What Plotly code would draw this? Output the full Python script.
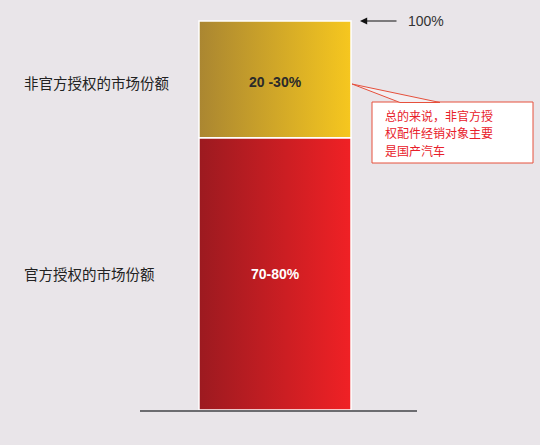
import plotly.graph_objects as go

# data
segments = ["官方授权的市场份额", "非官方授权的市场份额"]
shares = [70, 30]
share_labels = ["70-80%", "20 -30%"]
total_label = "100%"
note_lines = ["总的来说，非官方授", "权配件经销对象主要", "是国产汽车"]

# styles
left_colors = ["#9C1A20", "#AA8631"]
right_colors = ["#F02125", "#F6C71F"]
label_colors = ["white", "#2A2A2A"]
label_shift = [0, -3]
bg = "#E9E5E9"
font_family = "Liberation Sans, Arial, Noto Sans CJK SC"
cjk_family = "Noto Sans CJK SC, Liberation Sans"

W, H = 540, 445
L, R, T, B = 140, 123, 0, 35
plot_w, plot_h = W - L - R, H - T - B


def px(x):
    # pixel x -> paper x
    return (x - L) / plot_w


def py(y):
    # pixel y (from top) -> paper y
    return (H - B - y) / plot_h


fig = go.Figure()

base = 0
for name, v, lab, c0, c1, tc, sh in zip(segments, shares, share_labels,
                                       left_colors, right_colors,
                                       label_colors, label_shift):
    fig.add_trace(go.Scatter(
        x=[-0.5, 0.5, 0.5, -0.5, -0.5],
        y=[base, base, base + v, base + v, base],
        mode='lines', fill='toself',
        fillgradient=dict(type='horizontal',
                          colorscale=[[0, c0], [1, c1]]),
        line=dict(color='white', width=1.5),
        hoverinfo='skip', name=name
    ))
    fig.add_annotation(
        x=0, y=base + v / 2, text=lab, showarrow=False, yshift=sh,
        font=dict(family=font_family, size=14, color=tc, weight='bold')
    )
    # category label on the left
    fig.add_annotation(
        xref='paper', yref='y', x=px(22), y=base + v / 2, yshift=sh,
        xanchor='left', yanchor='middle', text=name, showarrow=False,
        font=dict(family=cjk_family, size=14.5, color='#222222')
    )
    base += v

# 100% marker with arrow
fig.add_annotation(
    xref='paper', yref='y', x=px(360), y=base,
    ax=38, ay=0, text='', showarrow=True,
    arrowhead=2, arrowsize=1.2, arrowwidth=1.2, arrowcolor='#111111'
)
fig.add_annotation(
    xref='paper', yref='y', x=px(406), y=base,
    xanchor='left', yanchor='middle', text=total_label, showarrow=False,
    font=dict(family=font_family, size=14, color='#333333')
)

# callout box
red = '#E6503C'
fig.add_shape(type='rect', xref='paper', yref='paper',
              x0=px(372), x1=px(533), y0=py(163), y1=py(102),
              fillcolor='white', line=dict(color=red, width=1))
fig.add_shape(type='path', xref='paper', yref='paper',
              path=f"M {px(440)},{py(102.5)} L {px(352)},{py(84)} "
                   f"L {px(400)},{py(102.5)} Z",
              fillcolor='#F2EFF2', line=dict(color=red, width=1))
for i, line in enumerate(note_lines):
    fig.add_annotation(
        xref='paper', yref='paper', x=px(384), y=py(115 + 17.5 * i),
        xanchor='left', yanchor='middle', align='left', borderpad=0,
        text=line, showarrow=False,
        font=dict(family=cjk_family, size=12, color='#E8202A')
    )

fig.update_layout(
    width=W, height=H,
    margin=dict(l=L, r=R, t=T, b=B),
    paper_bgcolor=bg, plot_bgcolor=bg,
    showlegend=False,
    xaxis=dict(range=[-0.888, 0.934], showgrid=False, zeroline=False,
               showticklabels=False, ticks='', showline=True,
               linecolor='#6C6C70', linewidth=2, fixedrange=True),
    yaxis=dict(range=[0, 105.4], visible=False, fixedrange=True),
)

fig.write_html("out.html", config=dict(displayModeBar=False),
               post_script="document.body.style.margin='0';"
                           "document.body.style.overflow='hidden';")
